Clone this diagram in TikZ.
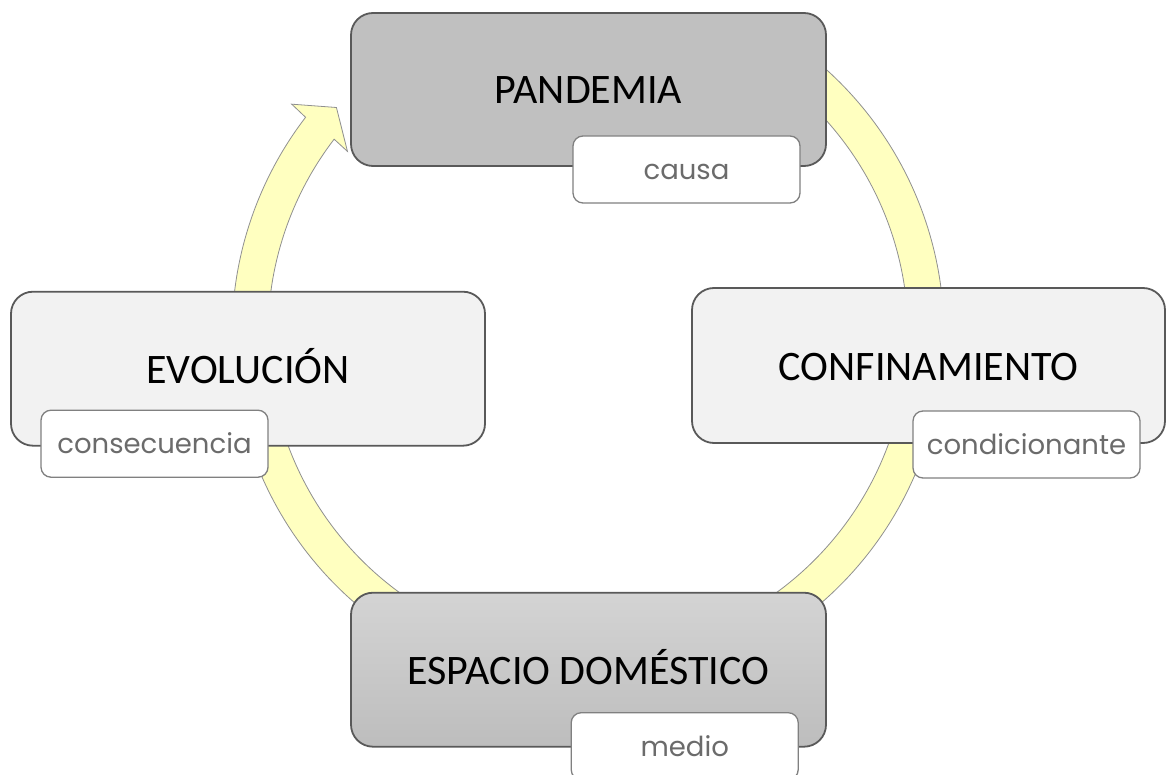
\documentclass[tikz,border=0pt]{standalone}
\usepackage{fontspec}
\setmainfont{Carlito}
\newfontfamily\labfont{Poppins}
\definecolor{ringfill}{HTML}{FFFFC0}
\definecolor{ringline}{HTML}{909090}
\definecolor{boxline}{HTML}{595959}
\definecolor{lightbox}{HTML}{F2F2F2}
\definecolor{flatgray}{HTML}{C0C0C0}
\definecolor{darktop}{HTML}{D4D4D4}
\definecolor{darkbot}{HTML}{BDBDBD}
\definecolor{labline}{HTML}{808080}
\definecolor{labtext}{HTML}{6B6B6B}
\tikzset{
  ringseg/.style={fill=ringfill, draw=ringline, line width=0.8pt, line join=miter},
  mainbox/.style={draw=boxline, line width=1.8pt, rounded corners=22pt, inner sep=0pt,
    font=\fontsize{42}{50}\selectfont, text=black, text height=29pt, text depth=0pt},
  lightfill/.style={fill=lightbox},
  flatfill/.style={fill=flatgray},
  darkfill/.style={top color=darktop, bottom color=darkbot},
  labbox/.style={draw=labline, fill=white, line width=1.3pt, rounded corners=10pt, inner sep=0pt,
    minimum width=227pt, minimum height=67pt, font=\labfont\fontsize{27.5}{33}\selectfont,
    text=labtext, text height=20pt, text depth=0pt}
}
\begin{document}
\begin{tikzpicture}[x=1pt,y=-1pt]
\useasboundingbox (0,0) rectangle (1166,775);
\def\cx{588}\def\cy{334}\def\Ro{356}\def\Ri{320}
% ring segments
\path[ringseg] plot[domain=-60:0,samples=60] ({\cx+\Ro*cos(\x)},{\cy+\Ro*sin(\x)})
  -- plot[domain=0:-60,samples=60] ({\cx+\Ri*cos(\x)},{\cy+\Ri*sin(\x)}) -- cycle;
\path[ringseg] plot[domain=5:80,samples=60] ({\cx+\Ro*cos(\x)},{\cy+\Ro*sin(\x)})
  -- plot[domain=80:5,samples=60] ({\cx+\Ri*cos(\x)},{\cy+\Ri*sin(\x)}) -- cycle;
\path[ringseg] plot[domain=100:175,samples=60] ({\cx+\Ro*cos(\x)},{\cy+\Ro*sin(\x)})
  -- plot[domain=175:100,samples=60] ({\cx+\Ri*cos(\x)},{\cy+\Ri*sin(\x)}) -- cycle;
\path[ringseg] plot[domain=185:217.5,samples=40] ({\cx+\Ro*cos(\x)},{\cy+\Ro*sin(\x)})
  -- ({\cx+375*cos(217.8)},{\cy+375*sin(217.8)})
  -- ({\cx+338.5*cos(222)},{\cy+338.5*sin(222)})
  -- ({\cx+302*cos(217.2)},{\cy+302*sin(217.2)})
  -- plot[domain=217.5:185,samples=40] ({\cx+\Ri*cos(\x)},{\cy+\Ri*sin(\x)}) -- cycle;
% main boxes
\node[mainbox, flatfill, minimum width=475pt, minimum height=153pt] (pand) at (588.5,89.5) {PANDEMIA};
\node[mainbox, lightfill, minimum width=473pt, minimum height=155pt] (conf) at (928.5,365.5) {CONFINAMIENTO};
\node[mainbox, darkfill, minimum width=475pt, minimum height=154pt] (esp) at (588.5,669.7) {ESPACIO DOMÉSTICO};
\node[mainbox, lightfill, minimum width=474pt, minimum height=154pt] (evol) at (248,368.7) {EVOLUCIÓN};
% labels
\node[labbox] (causa) at (686.5,169.5) {causa};
\node[labbox] (cond) at (1026.5,444.5) {condicionante};
\node[labbox] (medio) at (684.7,746.2) {medio};
\node[labbox] (cons) at (154.5,443.7) {consecuencia};
\end{tikzpicture}
\end{document}
